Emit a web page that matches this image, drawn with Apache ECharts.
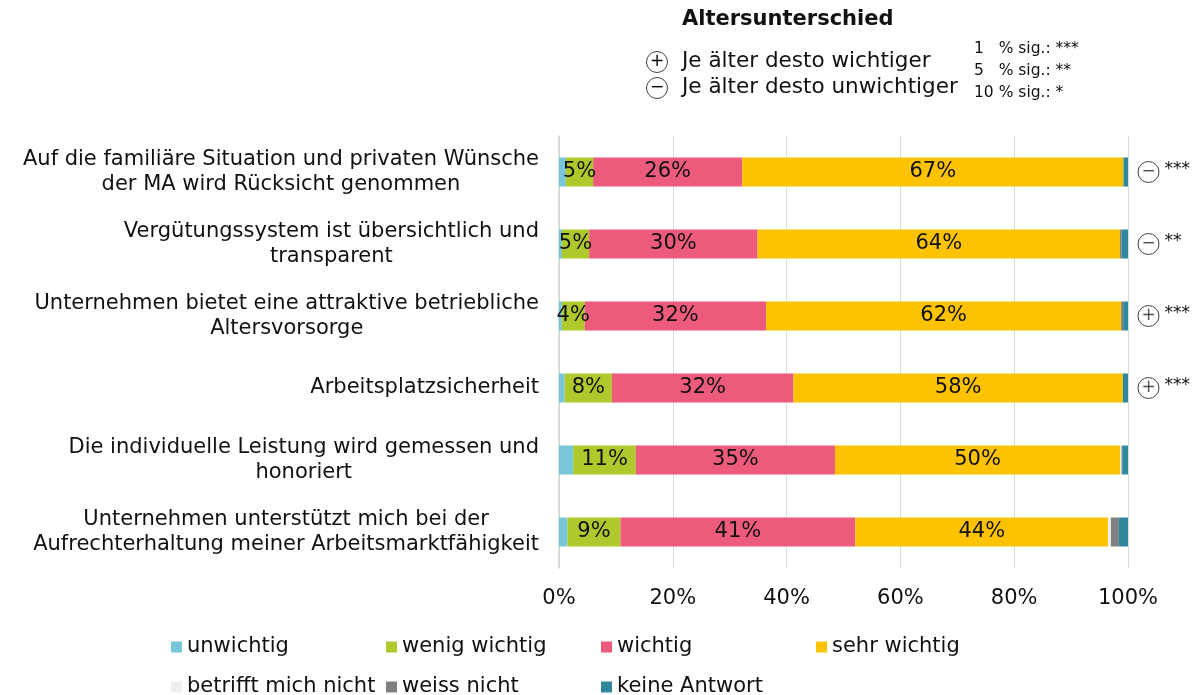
<!DOCTYPE html>
<html>
<head>
<meta charset="utf-8">
<script src="https://cdn.jsdelivr.net/npm/echarts@6/dist/echarts.min.js"></script>
<style>
html, body { margin: 0; padding: 0; background: #fff; }
#main { width: 1201px; height: 695px; }
</style>
</head>
<body>
<div id="main"></div>
<script>
// Kategorien (von oben nach unten)
var categories = [
    'Auf die familiäre Situation und privaten Wünsche\nder MA wird Rücksicht genommen',
    'Vergütungssystem ist übersichtlich und\ntransparent',
    'Unternehmen bietet eine attraktive betriebliche\nAltersvorsorge',
    'Arbeitsplatzsicherheit',
    'Die individuelle Leistung wird gemessen und\nhonoriert',
    'Unternehmen unterstützt mich bei der\nAufrechterhaltung meiner Arbeitsmarktfähigkeit'
];

// Anteile in %
var unwichtig     = [1.2, 0.5, 0.5, 1.0, 2.5, 1.5];
var wenigWichtig  = [4.8, 4.8, 4.0, 8.3, 11.0, 9.3];
var wichtig       = [26.2, 29.6, 31.9, 31.9, 35.0, 41.3];
var sehrWichtig   = [67.0, 63.7, 62.4, 57.9, 50.1, 44.4];
var betrifftNicht = [0, 0, 0, 0, 0.25, 0.5];
var weissNicht    = [0, 0.3, 0.35, 0, 0.15, 1.4];
var keineAntwort  = [0.8, 1.1, 0.85, 0.9, 1.0, 1.6];

// Altersunterschied je Kategorie
var ageSign  = ['-', '-', '+', '+', '', ''];
var sigStars = ['***', '**', '***', '***', '', ''];

var FONT = 'DejaVu Sans';
var TXT = '#111';

var myChart = echarts.init(document.getElementById('main'));

function pctLabel(p) {
    return Math.round(p.value) + '%';
}

function makeSeries(name, data, color, showLabel) {
    return {
        name: name,
        type: 'bar',
        stack: 'total',
        barWidth: 29,
        data: data,
        itemStyle: { color: color },
        label: {
            show: showLabel,
            position: 'inside',
            formatter: pctLabel,
            color: TXT,
            fontSize: 21,
            fontFamily: FONT
        },
        emphasis: { disabled: true }
    };
}

var circleRich = {
    width: 21, height: 21, borderRadius: 11,
    borderColor: '#404040', borderWidth: 1,
    align: 'center', verticalAlign: 'middle',
    fontSize: 17, lineHeight: 21, color: '#505050', fontFamily: FONT
};

myChart.setOption({
    animation: false,
    textStyle: { fontFamily: FONT },
    grid: { left: 559, right: 73, top: 136, bottom: 127 },
    legend: {
        left: 166,
        top: 627,
        width: 880,
        icon: 'rect',
        itemWidth: 11,
        itemHeight: 11,
        itemGap: 10,
        selectedMode: false,
        textStyle: { fontSize: 21, color: TXT, width: 189, lineHeight: 30, fontFamily: FONT },
        data: ['unwichtig', 'wenig wichtig', 'wichtig', 'sehr wichtig',
               'betrifft mich nicht', 'weiss nicht', 'keine Antwort']
    },
    xAxis: {
        type: 'value',
        min: 0,
        max: 100,
        interval: 20,
        axisLine: { show: false },
        axisTick: { show: false },
        axisLabel: { formatter: '{value}%', fontSize: 21, color: TXT, margin: 20, fontFamily: FONT },
        splitLine: { lineStyle: { color: '#d9d9d9', width: 1 } }
    },
    yAxis: [{
        type: 'category',
        data: categories,
        inverse: true,
        axisLine: { lineStyle: { color: '#d4d4d4', width: 1.5 } },
        axisTick: { show: false },
        axisLabel: {
            margin: 20,
            formatter: function (v) {
                return v.split('\n').map(function (l) { return '{c|' + l + '}'; }).join('\n');
            },
            rich: {
                c: { align: 'center', fontSize: 21, lineHeight: 25, color: TXT, fontFamily: FONT }
            }
        }
    }, {
        type: 'category',
        data: categories,
        inverse: true,
        position: 'right',
        axisLine: { show: false },
        axisTick: { show: false },
        axisLabel: {
            margin: 10,
            align: 'left',
            formatter: function (v, i) {
                if (!ageSign[i]) return '';
                return '{c|' + (ageSign[i] === '+' ? '+' : '−') + '}{s| ' + sigStars[i] + '}';
            },
            rich: {
                c: circleRich,
                s: { fontSize: 17, color: TXT, fontFamily: FONT, padding: [0, 0, 4, 0] }
            }
        }
    }],
    graphic: [
        {
            type: 'text', left: 682, top: 9,
            style: { text: 'Altersunterschied', fontSize: 21, fontWeight: 'bold', fill: TXT, fontFamily: FONT }
        },
        {
            type: 'text', left: 646, top: 51,
            style: { text: '{c|+}', rich: { c: circleRich } }
        },
        {
            type: 'text', left: 646, top: 77,
            style: { text: '{c|−}', rich: { c: circleRich } }
        },
        {
            type: 'text', left: 682, top: 50,
            style: { text: 'Je älter desto wichtiger', fontSize: 21.5, fill: TXT, fontFamily: FONT }
        },
        {
            type: 'text', left: 682, top: 76,
            style: { text: 'Je älter desto unwichtiger', fontSize: 21.5, fill: TXT, fontFamily: FONT }
        },
        {
            type: 'text', left: 974, top: 38,
            style: {
                text: '1   % sig.: ***\n5   % sig.: **\n10 % sig.: *',
                fontSize: 15.5, lineHeight: 22, fill: TXT, fontFamily: FONT
            }
        }
    ],
    series: [
        makeSeries('unwichtig', unwichtig, '#78c6da', false),
        makeSeries('wenig wichtig', wenigWichtig, '#adc92b', true),
        makeSeries('wichtig', wichtig, '#ec5b7b', true),
        makeSeries('sehr wichtig', sehrWichtig, '#fdc300', true),
        makeSeries('betrifft mich nicht', betrifftNicht, '#efefef', false),
        makeSeries('weiss nicht', weissNicht, '#808080', false),
        makeSeries('keine Antwort', keineAntwort, '#2f879c', false)
    ]
});
</script>
</body>
</html>
